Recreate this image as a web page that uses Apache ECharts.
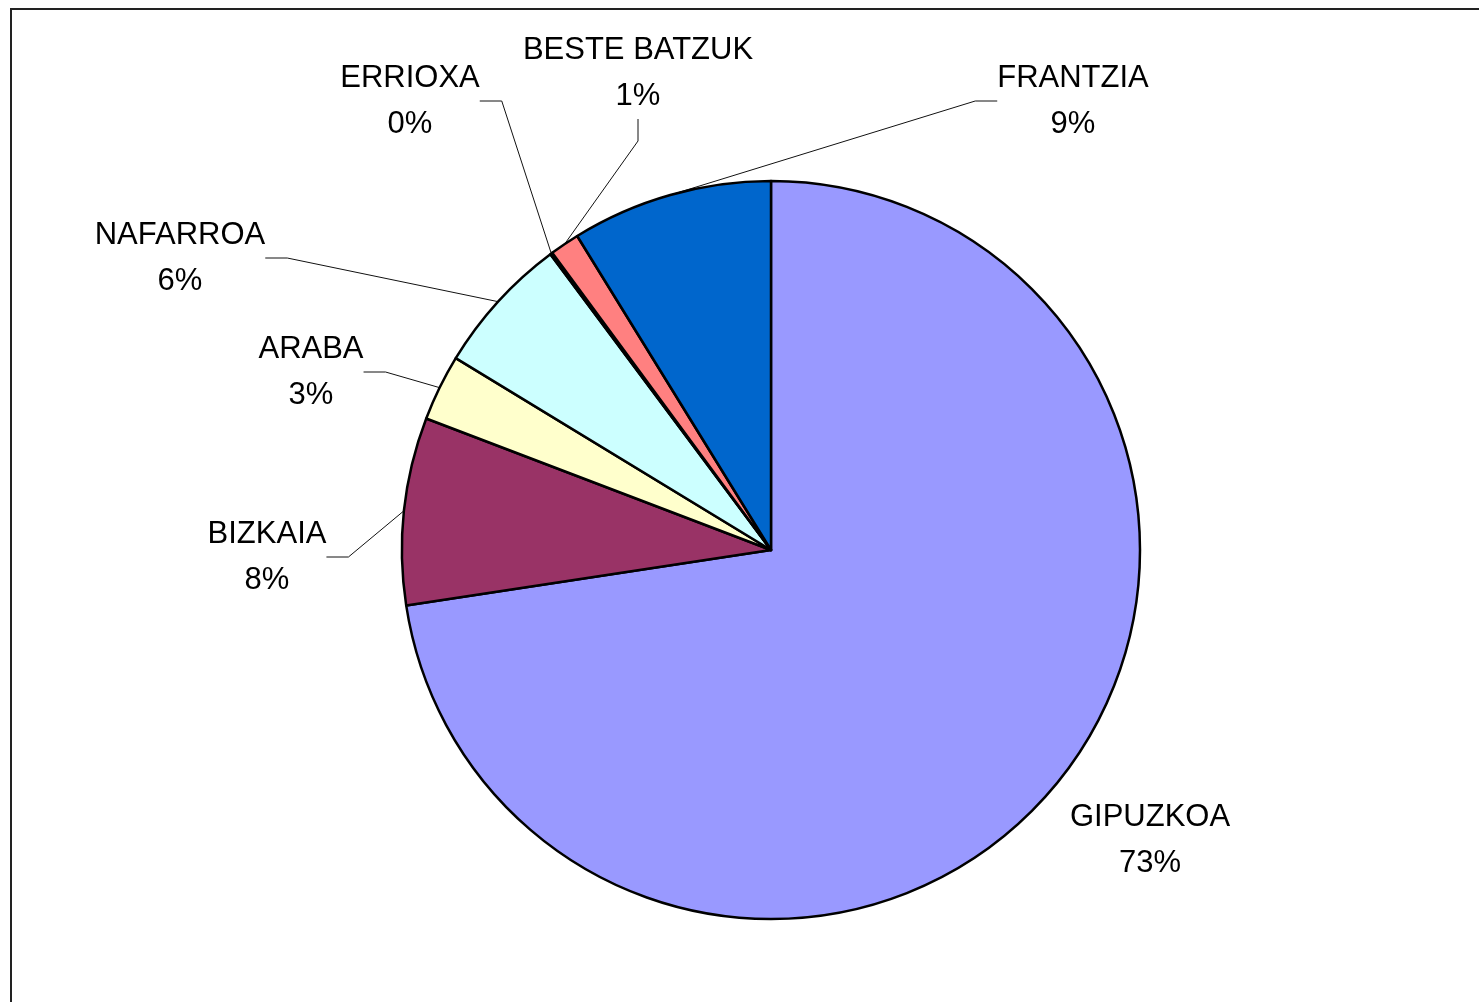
<!DOCTYPE html>
<html>
<head>
<meta charset="utf-8">
<script src="https://cdn.jsdelivr.net/npm/echarts@6/dist/echarts.min.js"></script>
<style>
  html, body { margin: 0; padding: 0; background: #fff; }
  #frame { position: absolute; left: 10px; top: 8px; width: 1479px; height: 1002px;
           border-left: 2px solid #222; border-top: 2px solid #222; }
  #main { position: absolute; left: 0; top: 0; width: 1479px; height: 1002px; }
</style>
</head>
<body>
<div id="frame"></div>
<div id="main"></div>
<script>
// categories, clockwise from 12 o'clock
var names = ['GIPUZKOA', 'BIZKAIA', 'ARABA', 'NAFARROA', 'ERRIOXA', 'BESTE BATZUK', 'FRANTZIA'];
// share of each (percent)
var values = [72.6, 8.2, 2.9, 6.1, 0.1, 1.3, 8.8];
var colors = ['#9999FF', '#993366', '#FFFFCC', '#CCFFFF', '#660066', '#FF8080', '#0066CC'];

// where each label sits (centre of the two-line block)
var labelPos = [
	[1150, 840], [267, 557], [311, 372], [180, 258],
	[410, 101], [638, 73], [1073, 101]
];

var total = values.reduce(function(a, b) { return a + b; }, 0);

var myChart = echarts.init(document.getElementById('main'));
var option = {
	animation: false,
	series: [
		{
			type: 'pie',
			center: [771, 550],
			radius: 369,
			startAngle: 90,
			clockwise: true,
			minAngle: 0,
			avoidLabelOverlap: false,
			data: names.map(function(n, i) {
				var d = { name: n, value: values[i], itemStyle: { color: colors[i] } };
				if (i === 0) d.labelLine = { show: false }; // GIPUZKOA label sits right by its slice
				return d;
			}),
			itemStyle: { borderColor: '#000', borderWidth: 2.5 },
			label: {
				show: true,
				position: 'outside',
				fontFamily: '"Liberation Sans", Arial, sans-serif',
				fontSize: 31,
				lineHeight: 46,
				color: '#000',
				align: 'center',
				formatter: function(p) {
					return p.name + '\n' + Math.round(p.value / total * 100) + '%';
				}
			},
			labelLine: {
				show: true,
				length: 20,
				length2: 22,
				lineStyle: { color: '#111', width: 1 }
			},
			labelLayout: function(p) {
				var pos = labelPos[p.dataIndex];
				return { x: pos[0], y: pos[1], align: 'center', verticalAlign: 'middle' };
			}
		}
	]
};
myChart.setOption(option);
</script>
</body>
</html>
